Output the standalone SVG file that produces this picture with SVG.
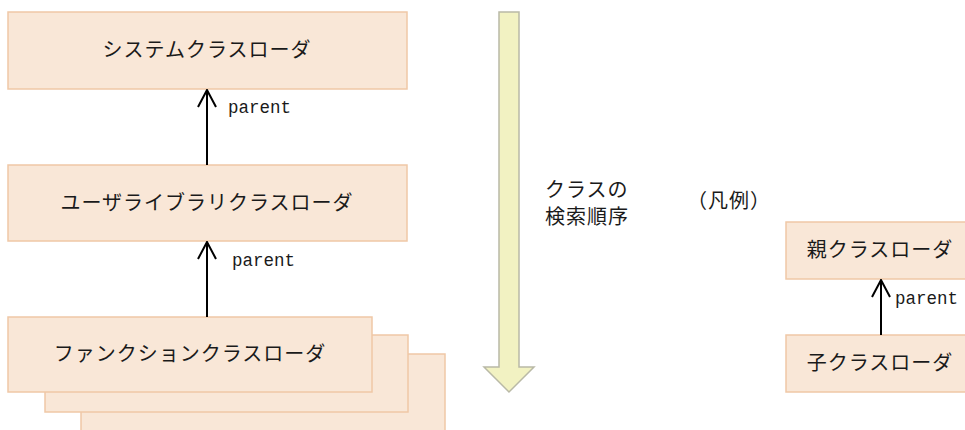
<svg xmlns="http://www.w3.org/2000/svg" width="965" height="430" viewBox="0 0 965 430">
<defs>
<style>
.box{fill:#f9e7d7;stroke:#efc8a6;stroke-width:1.5}
.jp{font-family:"Noto Sans CJK JP","Noto Sans",sans-serif;font-size:20px;letter-spacing:1px;fill:#1a1a1a}
.lbl{font-family:"Liberation Mono","DejaVu Sans Mono",monospace;font-size:17.5px;fill:#1a1a1a}
.ln{stroke:#000;stroke-width:2;fill:none}
</style>
<marker id="open" viewBox="0 0 20 20" refX="19" refY="10" markerWidth="20" markerHeight="20" markerUnits="userSpaceOnUse" orient="auto">
<path d="M2,1 L19,10 L2,19" fill="none" stroke="#000" stroke-width="2"/>
</marker>
</defs>
<rect width="965" height="430" fill="#fff"/>
<g id="system">
<rect class="box" x="8" y="12" width="399" height="77"/>
<text class="jp" x="207" y="57" text-anchor="middle">システムクラスローダ</text>
</g>
<g id="user">
<rect class="box" x="8" y="165" width="399" height="76"/>
<text class="jp" x="207" y="210" text-anchor="middle">ユーザライブラリクラスローダ</text>
</g>
<g id="function">
<rect class="box" x="81" y="354" width="364" height="90"/>
<rect class="box" x="45" y="335" width="363" height="77"/>
<rect class="box" x="8" y="317" width="364" height="75"/>
<text class="jp" x="190" y="361" text-anchor="middle">ファンクションクラスローダ</text>
</g>
<g id="order">
<path d="M499,12 L519,12 L519,367 L534,367 L509,392 L484,367 L499,367 Z" fill="#f2f2c2" stroke="#b9b9a6" stroke-width="1.5"/>
<text class="jp" x="545" y="197">クラスの</text>
<text class="jp" x="545" y="224">検索順序</text>
</g>
<g id="legend">
<text class="jp" x="729" y="208" text-anchor="middle">（凡例）</text>
</g>
<g id="parentbox">
<rect class="box" x="786" y="222" width="185" height="57"/>
<text class="jp" x="880" y="257" text-anchor="middle">親クラスローダ</text>
</g>
<g id="childbox">
<rect class="box" x="786" y="335" width="185" height="57"/>
<text class="jp" x="880" y="370" text-anchor="middle">子クラスローダ</text>
</g>
<g id="connectors">
<line class="ln" x1="207" y1="165" x2="207" y2="90" marker-end="url(#open)"/>
<text class="lbl" x="228" y="113">parent</text>
<line class="ln" x1="207" y1="317" x2="207" y2="242" marker-end="url(#open)"/>
<text class="lbl" x="232" y="266">parent</text>
<line class="ln" x1="881" y1="335" x2="881" y2="280" marker-end="url(#open)"/>
<text class="lbl" x="895" y="304">parent</text>
</g>
</svg>
